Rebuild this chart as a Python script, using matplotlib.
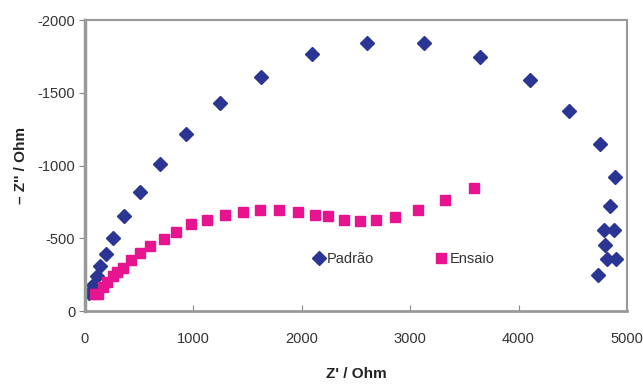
import matplotlib.pyplot as plt

plt.rcParams['font.family'] = ['Liberation Sans', 'DejaVu Sans']

# Padrão (diamonds)
padrao_x = [40, 77, 108, 138, 191, 261, 357, 507, 692, 934, 1248, 1624,
            2094, 2598, 3130, 3641, 4102, 4465, 4751, 4886, 4843, 4788,
            4880, 4794, 4819, 4899, 4732]
padrao_y = [-126, -179, -241, -311, -390, -504, -655, -818, -1010, -1216,
            -1432, -1606, -1768, -1844, -1844, -1748, -1586, -1377, -1148,
            -919, -722, -557, -557, -454, -360, -360, -245]

# Ensaio (squares)
ensaio_x = [95, 125, 163, 206, 255, 292, 354, 430, 513, 600, 729, 839, 975,
            1131, 1288, 1454, 1620, 1790, 1962, 2122, 2245, 2389, 2537, 2682,
            2860, 3069, 3318, 3586]
ensaio_y = [-117, -120, -163, -202, -241, -270, -298, -351, -401, -447, -495,
            -545, -598, -628, -662, -680, -696, -696, -680, -662, -653, -625,
            -621, -625, -648, -696, -763, -845]

yticks = [0, -500, -1000, -1500, -2000]
xticks = [0, 1000, 2000, 3000, 4000, 5000]

fig = plt.figure(figsize=(6.43, 3.85), dpi=100)
ax = fig.add_axes([0.132, 0.192, 0.843, 0.756])

ax.plot(padrao_x, padrao_y, 'D', color='#2B3594', markersize=7, label='Padrão')
ax.plot(ensaio_x, ensaio_y, 's', color='#E8138E', markersize=6.8, label='Ensaio')

ax.set_xlim(0, 5000)
ax.set_ylim(0, -2000)
ax.set_xticks(xticks)
ax.set_yticks(yticks)
ax.set_yticklabels([str(v) for v in yticks])

for s in ax.spines.values():
    s.set_color('#999999')
    s.set_linewidth(1.5)
ax.spines['left'].set_linewidth(2.5)
ax.spines['bottom'].set_linewidth(2)

ax.tick_params(axis='x', direction='in', length=4, color='#888888',
               labelsize=10.5, labelcolor='#333333', pad=15)
ax.tick_params(axis='y', direction='out', length=4, color='#888888',
               labelsize=10.5, labelcolor='#333333', pad=3)

ax.set_xlabel("Z' / Ohm", fontsize=11, fontweight='bold', color='#222222', labelpad=15)
ax.set_ylabel("– Z'' / Ohm", fontsize=11, fontweight='bold', color='#222222', labelpad=7)

ax.legend(loc='center', bbox_to_anchor=(0.588, 0.18), ncol=2, frameon=False,
          fontsize=10.5, handlelength=0.8, handletextpad=0.15, columnspacing=4.2,
          labelcolor='#333333')

fig.savefig('out.png', dpi=100)
